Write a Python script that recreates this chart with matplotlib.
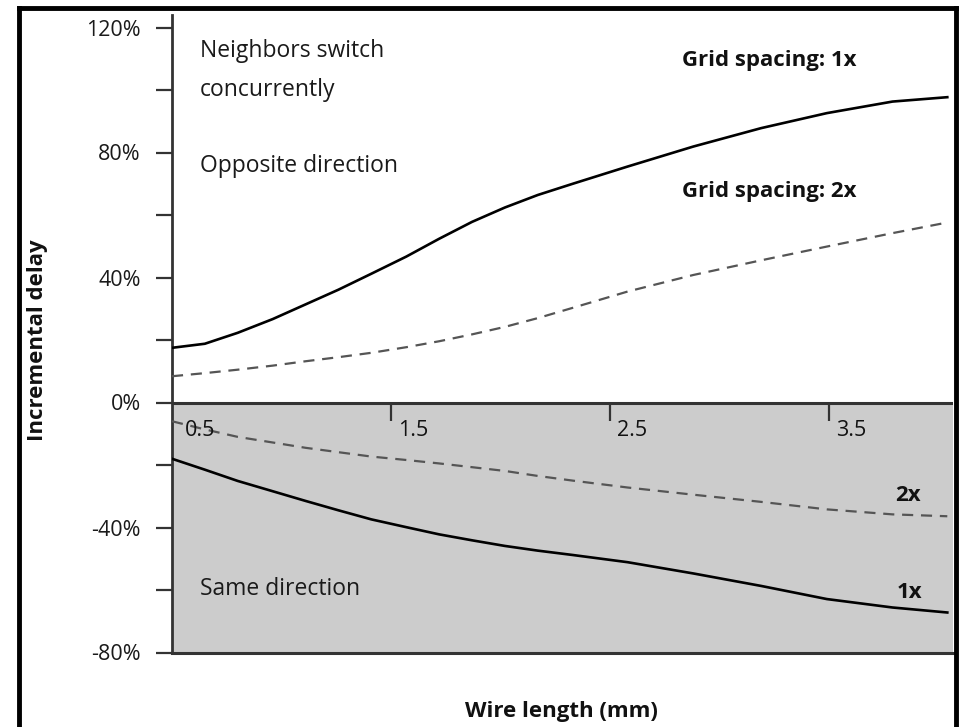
import matplotlib
matplotlib.use("Agg")
import matplotlib.pyplot as plt
from matplotlib.lines import Line2D

plt.rcParams["font.family"] = ["Open Sans", "DejaVu Sans"]

# ---------- Data ----------
wire_mm = [0.5, 0.65, 0.8, 0.96, 1.11, 1.26, 1.41, 1.57, 1.72, 1.87,
           2.02, 2.17, 2.33, 2.58, 2.88, 3.19, 3.49, 3.79, 4.04]

opp_1x = [17.5, 18.8, 22.3, 26.7, 31.4, 36.1, 41.2, 46.7, 52.4, 57.8,
          62.4, 66.4, 70.0, 75.5, 81.9, 87.8, 92.6, 96.3, 97.7]
opp_2x = [8.4, 9.4, 10.5, 11.8, 13.2, 14.5, 15.9, 17.7, 19.6, 21.8,
          24.2, 27.0, 30.3, 35.5, 40.8, 45.5, 49.9, 54.2, 57.6]
same_1x = [-18.0, -21.5, -25.1, -28.4, -31.5, -34.5, -37.4, -39.9, -42.2, -44.1,
           -45.9, -47.4, -48.8, -51.1, -54.7, -58.7, -62.9, -65.6, -67.2]
same_2x = [-6.0, -8.6, -11.0, -12.8, -14.5, -15.9, -17.3, -18.4, -19.5, -20.7,
           -21.9, -23.5, -25.0, -27.2, -29.5, -31.8, -34.2, -35.8, -36.4]

x_ticks = [0.5, 1.5, 2.5, 3.5]
x_tick_labels = ["0.5", "1.5", "2.5", "3.5"]
y_major = [-80, -40, 0, 40, 80, 120]
y_minor = [-60, -20, 20, 60, 100]

# ---------- Figure ----------
fig = plt.figure(figsize=(9.6, 7.27), dpi=100)
ax = fig.add_axes([172 / 960, 1 - 652.5 / 727, (953 - 172) / 960, (652.5 - 15) / 727])

ax.set_xlim(0.5, 4.066)
ax.set_ylim(-80, 124)

# gray "same direction" region
ax.axhspan(-80, 0, color="#cccccc", zorder=0)
ax.axhline(0, color="#333333", lw=2.2, zorder=3)

# curves
ax.plot(wire_mm, opp_1x, color="black", lw=1.9, zorder=4)
ax.plot(wire_mm, opp_2x, color="#555555", lw=1.6, dashes=(5, 3.5), zorder=4)
ax.plot(wire_mm, same_1x, color="black", lw=1.9, zorder=4)
ax.plot(wire_mm, same_2x, color="#555555", lw=1.6, dashes=(5, 3.5), zorder=4)

# spines / ticks
for s in ["top", "right"]:
    ax.spines[s].set_visible(False)
ax.spines["left"].set_color("#333333")
ax.spines["left"].set_linewidth(2)
ax.spines["bottom"].set_color("#333333")
ax.spines["bottom"].set_linewidth(2.2)

ax.set_yticks(y_major)
ax.set_yticklabels([f"{v}%" for v in y_major])
ax.set_yticks(y_minor, minor=True)
ax.tick_params(axis="y", which="both", direction="out", length=11.5, width=1.6,
               color="#333333", pad=11, labelsize=15.5, labelcolor="#1a1a1a")
ax.set_xticks([])

# x ticks hanging down from the zero line, labels to the right
for xv, lab in zip(x_ticks, x_tick_labels):
    dx = 5
    if xv > 0.5:
        ax.vlines(xv, -6, 0, color="#333333", lw=1.6, zorder=3)
    else:
        dx = 9
    ax.annotate(lab, (xv, 0), xytext=(dx, -24), textcoords="offset points",
                ha="left", va="baseline", fontsize=15.5, color="#111111", zorder=5)

# annotations
ax.text(0.628, 110.6, "Neighbors switch", fontsize=16.5, va="baseline", color="#1a1a1a")
ax.text(0.628, 98.1, "concurrently", fontsize=16.5, va="baseline", color="#1a1a1a")
ax.text(0.628, 73.7, "Opposite direction", fontsize=16.5, va="baseline", color="#1a1a1a")
ax.text(0.628, -61.6, "Same direction", fontsize=16.5, va="baseline", color="#1a1a1a")
ax.text(2.829, 107.8, "Grid spacing: 1x", fontsize=16, fontweight="bold", va="baseline", color="#111111")
ax.text(2.829, 65.7, "Grid spacing: 2x", fontsize=16, fontweight="bold", va="baseline", color="#111111")
ax.text(3.80, -31.6, "2x", fontsize=16, fontweight="bold", va="baseline", color="#111111")
ax.text(3.81, -62.6, "1x", fontsize=16, fontweight="bold", va="baseline", color="#111111")

fig.text(561 / 960, 1 - 712 / 727, "Wire length (mm)", fontsize=16, fontweight="bold",
         ha="center", va="center", color="#111111")
fig.text(38 / 960, 1 - 340 / 727, "Incremental delay", fontsize=16, fontweight="bold",
         rotation=90, ha="center", va="center", color="#111111")

# outer black frame (left, top, right)
fig.add_artist(Line2D([19 / 960, 19 / 960], [0, 1 - 8 / 727], color="black", lw=3.5,
                      transform=fig.transFigure))
fig.add_artist(Line2D([19 / 960, 956 / 960], [1 - 8 / 727, 1 - 8 / 727], color="black", lw=3.5,
                      transform=fig.transFigure))
fig.add_artist(Line2D([956 / 960, 956 / 960], [0, 1 - 8 / 727], color="black", lw=3.5,
                      transform=fig.transFigure))

fig.savefig("out.png", dpi=100)
